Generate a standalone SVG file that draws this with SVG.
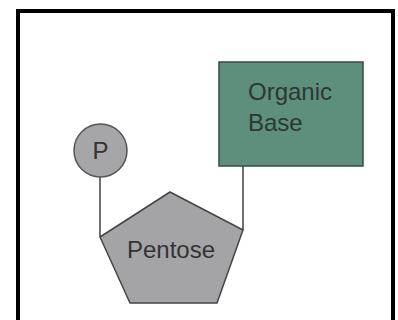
<svg xmlns="http://www.w3.org/2000/svg" width="398" height="320" viewBox="0 0 398 320">
<style>
.lbl{font-family:"Liberation Sans",Arial,sans-serif;font-size:24px}
.conn{stroke:#222;stroke-width:1.3;fill:none}
</style>
<rect x="0" y="0" width="398" height="320" fill="#fff"/>
<rect x="18" y="11" width="375" height="330" fill="none" stroke="#000" stroke-width="4"/>
<g id="connectors">
<line class="conn" x1="100" y1="177" x2="100" y2="237"/>
<line class="conn" x1="243" y1="166" x2="243" y2="230"/>
</g>
<g id="phosphate">
<circle cx="100.5" cy="150.5" r="26.5" fill="#a6a6a9" stroke="#555" stroke-width="1.5"/>
<text class="lbl" x="100.5" y="159" text-anchor="middle" fill="#333" font-size="23">P</text>
</g>
<g id="base">
<rect x="219" y="62" width="144" height="104" fill="#5e8e7c" stroke="#3a4a44" stroke-width="1.5"/>
<text class="lbl" x="248" y="100" fill="#2a3a33">Organic</text>
<text class="lbl" x="248" y="131" fill="#2a3a33">Base</text>
</g>
<g id="pentose">
<polygon points="170,192 243,230 217,303 130,303 100,237" fill="#a4a4a7" stroke="#444" stroke-width="1.5" stroke-linejoin="round"/>
<text class="lbl" x="171" y="258" text-anchor="middle" fill="#333">Pentose</text>
</g>
</svg>
